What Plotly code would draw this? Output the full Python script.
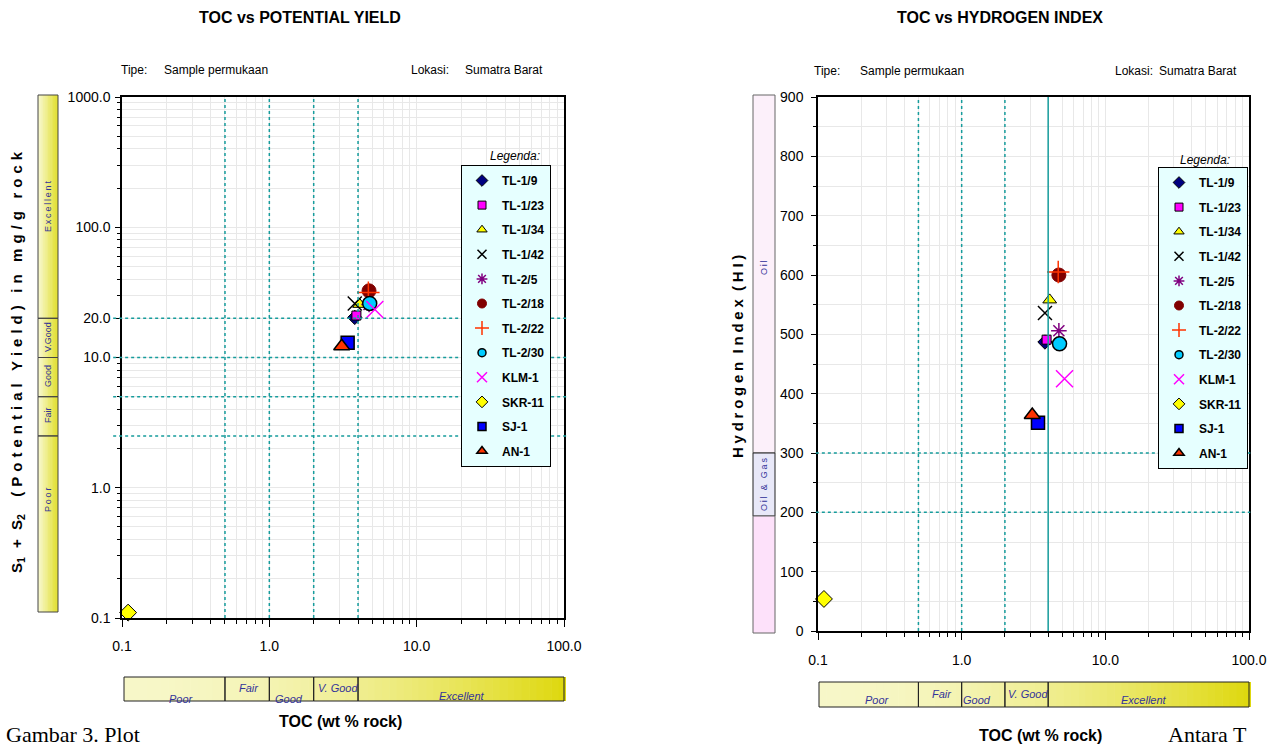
import math
import plotly.graph_objects as go

# ---------------- data ----------------
sample_names = ["TL-1/9", "TL-1/23", "TL-1/34", "TL-1/42", "TL-2/5", "TL-2/18",
                "TL-2/22", "TL-2/30", "KLM-1", "SKR-11", "SJ-1", "AN-1"]
toc_wt = [3.8, 3.9, 4.1, 3.8, 4.75, 4.75, 4.7, 4.8, 5.2, 0.11, 3.4, 3.1]
potential_yield = [20.3, 21.0, 25.6, 26.0, 25.5, 32.5, 31.5, 26.0, 23.4, 0.11, 13.0, 12.2]
hydrogen_index = [487, 491, 558, 536, 506, 600, 605, 484, 425, 54, 351, 364]

py_ticks = [0.1, 1, 10, 20, 100, 1000]
py_ticktext = ["0.1", "1.0", "10.0", "20.0", "100.0", "1000.0"]
toc_ticks = [0.1, 1, 10, 100]
toc_ticktext = ["0.1", "1.0", "10.0", "100.0"]
hi_ticks = [0, 100, 200, 300, 400, 500, 600, 700, 800, 900]

toc_class_bounds = [0.1, 0.5, 1, 2, 4, 100]
toc_class_labels = ["Poor", "Fair", "Good", "V. Good", "Excellent"]
py_class_bounds = [20, 10, 5, 2.5]
py_class_labels = ["Excellent", "V.Good", "Good", "Fair", "Poor"]
hi_class_bounds = [300, 200]

# ---------------- styles ----------------
marker_styles = {
    "TL-1/9": dict(symbol="diamond", color="#000080", size=11, line=dict(color="black", width=1)),
    "TL-1/23": dict(symbol="square", color="#FF00FF", size=9, line=dict(color="black", width=1)),
    "TL-1/34": dict(symbol="triangle-up", color="#FFFF00", size=12, line=dict(color="black", width=1)),
    "TL-1/42": dict(symbol="x-thin-open", color="black", size=14, line=dict(color="black", width=1.5)),
    "TL-2/5": dict(symbol="asterisk-open", color="#800080", size=13, line=dict(color="#800080", width=1.5)),
    "TL-2/18": dict(symbol="circle", color="#800000", size=14, line=dict(color="#800000", width=1)),
    "TL-2/22": dict(symbol="cross-thin-open", color="#FF3300", size=16, line=dict(color="#FF3300", width=1.5)),
    "TL-2/30": dict(symbol="circle", color="#00CCFF", size=14, line=dict(color="black", width=1.5)),
    "KLM-1": dict(symbol="x-thin-open", color="#FF00FF", size=17, line=dict(color="#FF00FF", width=1.5)),
    "SKR-11": dict(symbol="diamond", color="#FFFF00", size=13, line=dict(color="black", width=1)),
    "SJ-1": dict(symbol="square", color="#0000FF", size=13, line=dict(color="black", width=1.5)),
    "AN-1": dict(symbol="triangle-up", color="#FF3300", size=14, line=dict(color="black", width=1.5)),
}
legend_marker_size = {"TL-1/9": 9, "TL-1/23": 8, "TL-1/34": 9, "TL-1/42": 9, "TL-2/5": 9,
                      "TL-2/18": 9, "TL-2/22": 10, "TL-2/30": 8, "KLM-1": 10, "SKR-11": 9,
                      "SJ-1": 8, "AN-1": 9}

W, H = 1276, 748


def fx(px):
    return px / W


def fy(py):
    return 1 - py / H


FONT = "Liberation Sans, Arial, sans-serif"
SERIF = "Liberation Serif, Times New Roman, serif"
TEAL = "#169c9c"
GRID = "#e8e8e8"
LABEL_BLUE = "#333399"

L_X0, L_X1, L_Y0, L_Y1 = 122, 564, 97, 618
R_X0, R_X1, R_Y0, R_Y1 = 818, 1249, 97, 631


def minor_log(a, b):
    return [m * 10 ** e for e in range(a, b) for m in range(2, 10)]


fig = go.Figure()

for side, xa, ya, yvals, leg in (("L", "x", "y", potential_yield, "legend"),
                                 ("R", "x2", "y2", hydrogen_index, "legend2")):
    for i, n in enumerate(sample_names):
        fig.add_trace(go.Scatter(
            x=[toc_wt[i]], y=[yvals[i]], mode="markers", name=n,
            marker=marker_styles[n], xaxis=xa, yaxis=ya, showlegend=False,
            cliponaxis=False, hovertemplate=n + "<extra></extra>"))
    # legend entries (small symbols, no points)
    for n in sample_names:
        lm = dict(marker_styles[n])
        lm["size"] = legend_marker_size[n]
        fig.add_trace(go.Scatter(
            x=[None], y=[None], mode="markers", name=n, marker=lm,
            xaxis=xa, yaxis=ya, legend=leg, legendgroup=side + n, showlegend=True))

axis_common = dict(showline=True, linecolor="black", linewidth=1.5, mirror=True,
                   ticks="outside", tickcolor="black", tickwidth=1, automargin=False,
                   showgrid=True, gridcolor=GRID, gridwidth=1, zeroline=False,
                   tickfont=dict(family=FONT, size=14, color="black"))

x_common = dict(axis_common, type="log", range=[-1, 2], tickvals=toc_ticks,
                ticktext=toc_ticktext, ticklen=7,
                minor=dict(tickvals=minor_log(-1, 2), ticks="outside", ticklen=4,
                           tickcolor="black", showgrid=True, gridcolor=GRID))

legend_common = dict(xanchor="right", yanchor="top",
                     bgcolor="#e6ffff", bordercolor="black", borderwidth=1,
                     font=dict(family=FONT, size=12, color="black", weight="bold"),
                     tracegroupgap=5.6, itemsizing="trace", itemwidth=30)

fig.update_layout(
    template="none",
    width=W, height=H, margin=dict(l=0, r=0, t=0, b=0, pad=0, autoexpand=False),
    paper_bgcolor="white", plot_bgcolor="white",
    font=dict(family=FONT, color="black"),
    xaxis=dict(x_common, domain=[fx(L_X0), fx(L_X1)], anchor="y", ticklabelstandoff=7),
    yaxis=dict(axis_common, type="log", range=[-1, 3], domain=[fy(L_Y1), fy(L_Y0)],
               anchor="x", tickvals=py_ticks, ticktext=py_ticktext, ticklen=5,
               ticklabelstandoff=2,
               minor=dict(tickvals=[v for v in minor_log(-1, 3) if v != 20],
                          ticks="outside", ticklen=3, tickcolor="black",
                          showgrid=True, gridcolor=GRID)),
    xaxis2=dict(x_common, domain=[fx(R_X0), fx(R_X1)], anchor="y2", ticklabelstandoff=8),
    yaxis2=dict(axis_common, range=[0, 900], domain=[fy(R_Y1), fy(R_Y0)],
                anchor="x2", tickvals=hi_ticks, ticklen=5, ticklabelstandoff=5,
                minor=dict(dtick=50, ticks="outside", ticklen=3, tickcolor="black",
                           showgrid=True, gridcolor=GRID)),
    legend=dict(legend_common, x=fx(551), y=fy(165)),
    legend2=dict(legend_common, x=fx(1248), y=fy(167)),
)

shapes = []
annotations = []

# reference lines - left chart
for v in toc_class_bounds[1:5]:
    shapes.append(dict(type="line", xref="x", yref="y domain", x0=v, x1=v, y0=0, y1=1,
                       line=dict(color=TEAL, width=1.5, dash="dot"), layer="above"))
for v in py_class_bounds:
    shapes.append(dict(type="line", xref="x domain", yref="y", x0=-0.02, x1=1.006, y0=v, y1=v,
                       line=dict(color=TEAL, width=1.5, dash="dot"), layer="above"))
# reference lines - right chart
for v in toc_class_bounds[1:4]:
    shapes.append(dict(type="line", xref="x2", yref="y2 domain", x0=v, x1=v, y0=0, y1=1,
                       line=dict(color=TEAL, width=1.5, dash="dot"), layer="above"))
shapes.append(dict(type="line", xref="x2", yref="y2 domain", x0=toc_class_bounds[4],
                   x1=toc_class_bounds[4], y0=0, y1=1,
                   line=dict(color=TEAL, width=1.5), layer="above"))
for v in hi_class_bounds:
    shapes.append(dict(type="line", xref="x2 domain", yref="y2", x0=-0.005, x1=1.003, y0=v, y1=v,
                       line=dict(color=TEAL, width=1.5, dash="dot"), layer="above"))


def lerp_col(c0, c1, t):
    return "rgb(%d,%d,%d)" % tuple(round(a + (b - a) * t) for a, b in zip(c0, c1))


def rect(x0, y0, x1, y1, fill=None, line_col=None, lw=1):
    d = dict(type="rect", xref="paper", yref="paper", x0=fx(x0), x1=fx(x1),
             y0=fy(y1), y1=fy(y0), layer="above")
    d["fillcolor"] = fill if fill else "rgba(0,0,0,0)"
    d["line"] = dict(color=line_col, width=lw) if line_col else dict(width=0)
    return d


def text(x, y, s, size=12, bold=False, italic=False, xanchor="center", angle=0,
         family=FONT, color="black"):
    if bold:
        s = "<b>%s</b>" % s
    if italic:
        s = "<i>%s</i>" % s
    annotations.append(dict(xref="paper", yref="paper", x=fx(x), y=fy(y), text=s,
                            showarrow=False, xanchor=xanchor, yanchor="middle",
                            textangle=angle,
                            font=dict(family=family, size=size, color=color)))


def spaced(s, sep="\u2009"):
    return sep.join(s)


LIGHT = (247, 247, 200)
DARK = (222, 216, 12)


def toc_bar(ax0, ax1, bx0, bx1, by0, by1, label_pos):
    n = 60
    for k in range(n):
        xa = bx0 + (bx1 - bx0) * k / n
        xb = bx0 + (bx1 - bx0) * (k + 1) / n + 0.6
        t = (k + 0.5) / n
        shapes.append(rect(xa, by0, min(xb, bx1), by1, fill=lerp_col(LIGHT, DARK, t ** 1.9)))

    def tx(v):
        return ax0 + (ax1 - ax0) * math.log10(v / 0.1) / 3

    for j in range(5):
        xa = max(tx(toc_class_bounds[j]), bx0)
        xb = min(tx(toc_class_bounds[j + 1]), bx1)
        shapes.append(rect(xa, by0, xb, by1, line_col="#222222", lw=1))
        cx, cy = label_pos[j]
        text(cx, cy, toc_class_labels[j], size=11, italic=True, color=LABEL_BLUE)


toc_bar(L_X0, L_X1, 124, 566, 677, 701,
        [(181, 699), (249, 688), (289, 699), (338, 688), (462, 696)])
toc_bar(R_X0, R_X1, 819, 1251, 682, 707,
        [(877, 700), (942, 694), (977, 700), (1028, 694), (1144, 700)])


def py_to_px(v):
    return L_Y1 - (L_Y1 - L_Y0) * (math.log10(v) + 1) / 4


# left vertical quality bar (potential yield)
VB_X0, VB_X1, VB_Y0, VB_Y1 = 38, 58, 95, 612
for k in range(12):
    xa = VB_X0 + (VB_X1 - VB_X0) * k / 12
    xb = VB_X0 + (VB_X1 - VB_X0) * (k + 1) / 12 + 0.5
    t = (k + 0.5) / 12
    shapes.append(rect(xa, VB_Y0, min(xb, VB_X1), VB_Y1,
                       fill=lerp_col((249, 249, 212), (224, 222, 40), t)))
edges = [VB_Y0] + [py_to_px(v) for v in py_class_bounds] + [VB_Y1]
for j in range(5):
    shapes.append(rect(VB_X0, edges[j], VB_X1, edges[j + 1], line_col="#444444", lw=1))
vlabel_y = [207, 337, 376, 415, 500]
vlabel_txt = [spaced(py_class_labels[0]), py_class_labels[1], py_class_labels[2],
              py_class_labels[3], spaced(py_class_labels[4])]
for lab, yy in zip(vlabel_txt, vlabel_y):
    text(48, yy, lab, size=9, angle=-90, color=LABEL_BLUE)

# right vertical bar (HI)
shapes.append(rect(753, 95, 775, 453, fill="#fcf0fa", line_col="#666666"))
shapes.append(rect(753, 453, 775, 516, fill="#e8e8f8", line_col="#222222"))
shapes.append(rect(753, 516, 775, 633, fill="#fde1fa", line_col="#666666"))
text(764, 268, spaced("Oil"), size=9, angle=-90, color=LABEL_BLUE)
text(764, 485, spaced("Oil & Gas"), size=9, angle=-90, color=LABEL_BLUE)

# titles
text(300, 18, "TOC vs POTENTIAL YIELD", size=16, bold=True)
text(1000, 18, "TOC vs HYDROGEN INDEX", size=16, bold=True)
# Tipe / Lokasi
text(134, 70, "Tipe:", size=12)
text(162, 70, "Sample permukaan", size=12, xanchor="left")
text(430, 70, "Lokasi:", size=12)
text(463, 70, "Sumatra Barat", size=12, xanchor="left")
text(827, 71, "Tipe:", size=12)
text(858, 71, "Sample permukaan", size=12, xanchor="left")
text(1134, 71, "Lokasi:", size=12)
text(1157, 71, "Sumatra Barat", size=12, xanchor="left")
# axis titles
text(340, 721, "TOC (wt % rock)", size=16, bold=True)
text(1040, 735, "TOC (wt % rock)", size=16, bold=True)
SP = "\u2004"
ytitle_left = ("S<sub>1</sub>" + SP + " + " + SP + "S<sub>2</sub>" + SP + "   " +
               "   ".join(spaced(w, SP) for w in ["(Potential", "Yield)", "in", "mg/g", "rock"]))
text(18, 362, ytitle_left, size=15, bold=True, angle=-90)
text(737, 357, "  ".join(spaced(w, "\u2005") for w in ["Hydrogen", "Index", "(HI)"]),
     size=15, bold=True, angle=-90)
# legend headings
text(488, 156, "Legenda:", size=12, italic=True, xanchor="left")
text(1178, 160, "Legenda:", size=12, italic=True, xanchor="left")
# caption fragments visible on the page
text(4, 734, "Gambar 3. Plot", size=22, xanchor="left", family=SERIF)
text(1166, 734, "Antara T", size=22, xanchor="left", family=SERIF)

fig.update_layout(shapes=shapes, annotations=annotations)

fig.write_html("out.html", config={"displayModeBar": False},
               post_script="document.body.style.margin='0';document.body.style.overflow='hidden';")
